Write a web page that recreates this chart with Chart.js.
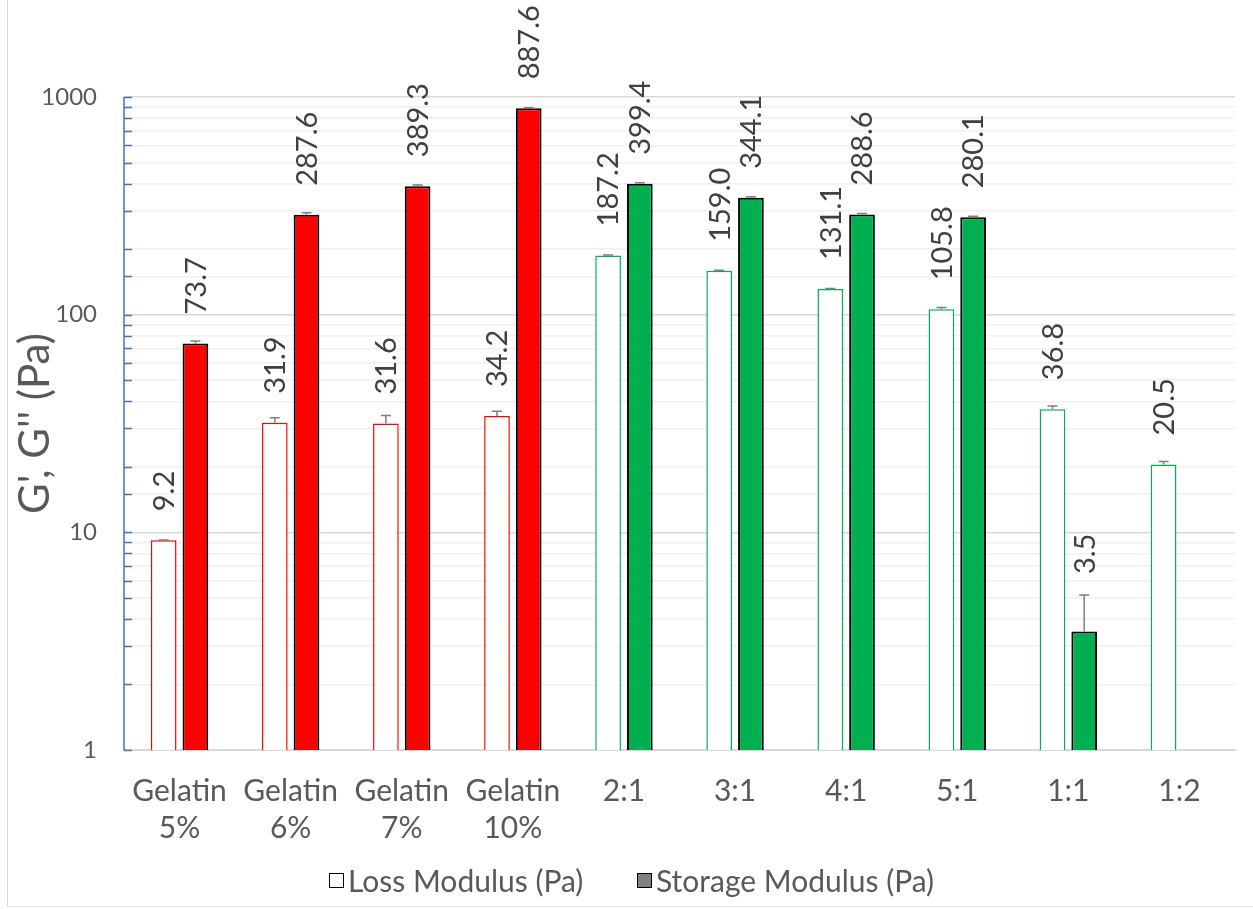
<!DOCTYPE html>
<html><head><meta charset="utf-8">
<script src="https://cdn.jsdelivr.net/npm/chart.js@4.4.1/dist/chart.umd.min.js"></script>
<style>
html,body{margin:0;padding:0;background:#fff;}
#wrap{position:absolute;left:0;top:0;width:1253px;height:909px;overflow:hidden;}
#frame{position:absolute;left:7px;top:-2px;width:1260px;height:909px;border-left:1.5px solid #d9d9d9;border-bottom:1px solid #e8e8e8;box-sizing:border-box;pointer-events:none;}
canvas{position:absolute;left:0;top:0;}
.lg{position:absolute;top:862px;font-family:Lato,sans-serif;font-size:30px;color:#595959;white-space:nowrap;display:flex;align-items:center;}
.bx{display:inline-block;width:13px;height:13px;border:1.5px solid #000;margin-right:4px;}
</style>
</head><body>
<div id="wrap">
<canvas id="c" width="1253" height="909"></canvas>
<div id="frame"></div>
<div class="lg" style="left:329px"><span class="bx" style="background:#fff"></span>Loss Modulus (Pa)</div>
<div class="lg" style="left:637px"><span class="bx" style="background:#808080"></span>Storage Modulus (Pa)</div>
</div>
<script>
const categories = [["Gelatin","5%"],["Gelatin","6%"],["Gelatin","7%"],["Gelatin","10%"],["2:1"],["3:1"],["4:1"],["5:1"],["1:1"],["1:2"]];
const groupColors = ["#FF0000","#FF0000","#FF0000","#FF0000","#00B050","#00B050","#00B050","#00B050","#00B050","#00B050"];
const lossModulus = [9.2, 31.9, 31.6, 34.2, 187.2, 159.0, 131.1, 105.8, 36.8, 20.5];
const lossError = [0.03, 1.7, 2.8, 1.8, 1.0, 1.0, 0.8, 2.0, 1.3, 0.65];
const storageModulus = [73.7, 287.6, 389.3, 887.6, 399.4, 344.1, 288.6, 280.1, 3.5, null];
const storageError = [2.0, 6.0, 5.0, 5.0, 4.0, 4.0, 3.0, 3.0, 1.65, null];
const yTickLabels = [1, 10, 100, 1000];

const isMajor = v => yTickLabels.some(t => Math.abs(t - v) < 1e-9);

const overlay = {
  id: 'overlay',
  afterDatasetsDraw(chart) {
    const ctx = chart.ctx, ys = chart.scales.y;
    const errs = [lossError, storageError];
    chart.data.datasets.forEach((ds, di) => {
      const meta = chart.getDatasetMeta(di);
      meta.data.forEach((bar, i) => {
        const v = ds.data[i];
        if (v == null) return;
        const e = errs[di][i] || 0;
        const top = ys.getPixelForValue(v + e);
        ctx.save();
        ctx.strokeStyle = '#7f7f7f';
        ctx.lineWidth = 1.5;
        ctx.beginPath();
        ctx.moveTo(bar.x, bar.y);
        ctx.lineTo(bar.x, top);
        ctx.moveTo(bar.x - 5, top);
        ctx.lineTo(bar.x + 5, top);
        ctx.stroke();
        const ly = Math.min(bar.y - 29, top - 21);
        ctx.translate(bar.x + 1, ly);
        ctx.rotate(-Math.PI / 2);
        ctx.fillStyle = '#404040';
        ctx.font = '29px Lato';
        ctx.textAlign = 'left';
        ctx.textBaseline = 'middle';
        ctx.fillText(v.toFixed(1), 0, 0);
        ctx.restore();
      });
    });
  },
  afterDraw(chart) {
    const ctx = chart.ctx, ys = chart.scales.y, a = chart.chartArea;
    ctx.save();
    ctx.strokeStyle = '#4472C4';
    ctx.lineWidth = 1.5;
    ctx.beginPath();
    ctx.moveTo(a.left, a.top);
    ctx.lineTo(a.left, a.bottom);
    ys.ticks.forEach(t => {
      const py = Math.round(ys.getPixelForValue(t.value)) + 0.5;
      ctx.moveTo(a.left, py);
      ctx.lineTo(a.left + 8, py);
    });
    ctx.stroke();
    ctx.restore();
  }
};

new Chart(document.getElementById('c'), {
  type: 'bar',
  data: {
    labels: categories,
    datasets: [
      { label: 'Loss Modulus (Pa)', data: lossModulus, backgroundColor: '#ffffff', borderColor: groupColors, borderWidth: 1.5, categoryPercentage: 0.571, barPercentage: 0.81 },
      { label: 'Storage Modulus (Pa)', data: storageModulus, backgroundColor: groupColors, borderColor: '#000000', borderWidth: 2, categoryPercentage: 0.571, barPercentage: 0.81 }
    ]
  },
  options: {
    responsive: false,
    animation: false,
    layout: { padding: { top: 97, right: 18, bottom: 60, left: 0 } },
    plugins: { legend: { display: false }, tooltip: { enabled: false } },
    scales: {
      x: {
        grid: { display: false, drawTicks: false },
        border: { display: true, color: '#d9d9d9', width: 2 },
        ticks: { padding: 23, autoSkip: false, maxRotation: 0, color: '#595959', font: { family: 'Lato', size: 30, lineHeight: 1.22 } },
        afterFit: s => { s.height = 99; }
      },
      y: {
        type: 'logarithmic', min: 1, max: 1000,
        border: { display: false },
        grid: { drawTicks: false, lineWidth: 1.5, color: c => isMajor(c.tick.value) ? '#d9d9d9' : '#f0f0f0' },
        ticks: { autoSkip: false, padding: 27, color: '#595959', font: { family: 'Lato', size: 24 },
                 callback: v => isMajor(v) ? String(v) : '' },
        title: { display: true, text: "G', G'' (Pa)", color: '#595959', font: { family: 'Lato', size: 42 }, padding: { top: 10, bottom: 0 } },
        afterFit: s => { s.width = 124; }
      }
    }
  },
  plugins: [overlay]
});
</script>
</body></html>
